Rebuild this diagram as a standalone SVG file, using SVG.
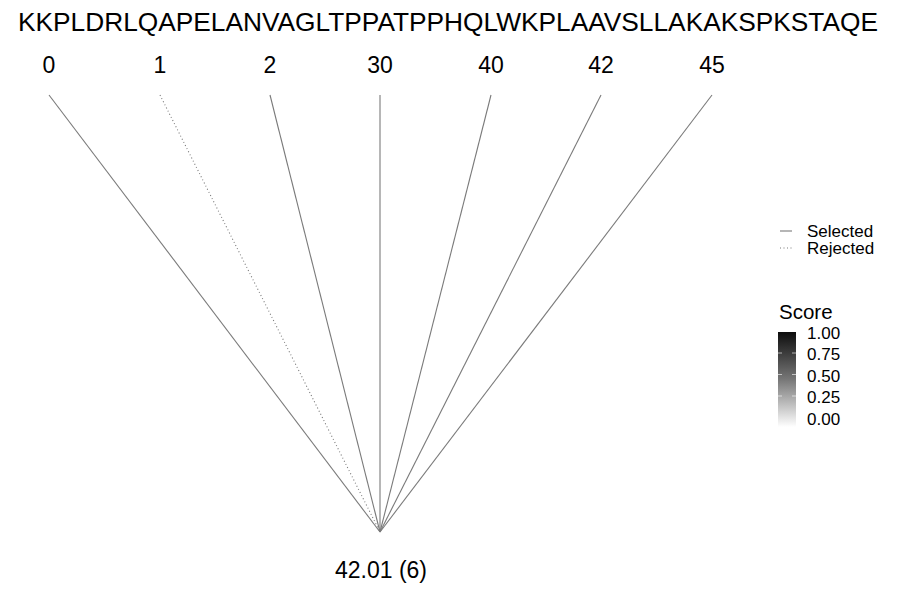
<svg xmlns="http://www.w3.org/2000/svg" width="900" height="600" viewBox="0 0 900 600">
<style>
text{font-family:"Liberation Sans",Arial,sans-serif;fill:#000}
.lbl{font-size:23px;text-anchor:middle}
.sel{stroke:#7a7a7a;stroke-width:1.1;fill:none}
.rej{stroke:#7a7a7a;stroke-width:1.1;fill:none;stroke-dasharray:1 2.5}
.leg{font-size:17px}
.tick{stroke:#ffffff;stroke-width:1;opacity:0.6}
</style>
<defs>
<linearGradient id="g" x1="0" y1="1" x2="0" y2="0">
<stop offset="0" stop-color="#ffffff"/>
<stop offset="0.5" stop-color="#777777"/>
<stop offset="1" stop-color="#0d0d0d"/>
</linearGradient>
</defs>
<rect width="900" height="600" fill="#fff"/>
<text x="448" y="31" font-size="25.5" text-anchor="middle" textLength="860" lengthAdjust="spacingAndGlyphs">KKPLDRLQAPELANVAGLTPPATPPHQLWKPLAAVSLLAKAKSPKSTAQE</text>
<g id="connectors">
<line class="sel" x1="49" y1="95" x2="380" y2="532"/>
<line class="rej" x1="160" y1="95" x2="380" y2="532"/>
<line class="sel" x1="270" y1="95" x2="380" y2="532"/>
<line class="sel" x1="380" y1="95" x2="380" y2="532"/>
<line class="sel" x1="491" y1="95" x2="380" y2="532"/>
<line class="sel" x1="601" y1="95" x2="380" y2="532"/>
<line class="sel" x1="712" y1="95" x2="380" y2="532"/>
</g>
<g id="n0"><text class="lbl" x="49" y="73">0</text></g>
<g id="n1"><text class="lbl" x="160" y="73">1</text></g>
<g id="n2"><text class="lbl" x="270" y="73">2</text></g>
<g id="n30"><text class="lbl" x="380" y="73">30</text></g>
<g id="n40"><text class="lbl" x="491" y="73">40</text></g>
<g id="n42"><text class="lbl" x="601" y="73">42</text></g>
<g id="n45"><text class="lbl" x="712" y="73">45</text></g>
<g id="root"><text class="lbl" x="381" y="578">42.01 (6)</text></g>
<g id="legend">
<line x1="780" y1="231" x2="792" y2="231" class="sel"/>
<line x1="780" y1="248" x2="792" y2="248" class="rej"/>
<text class="leg" x="807" y="237">Selected</text>
<text class="leg" x="807" y="254">Rejected</text>
<text x="779" y="319" font-size="20.5">Score</text>
<rect x="778" y="332" width="18" height="95" fill="url(#g)"/>
<line class="tick" x1="778" y1="353" x2="782" y2="353"/><line class="tick" x1="792" y1="353" x2="796" y2="353"/>
<line class="tick" x1="778" y1="374.5" x2="782" y2="374.5"/><line class="tick" x1="792" y1="374.5" x2="796" y2="374.5"/>
<line class="tick" x1="778" y1="396" x2="782" y2="396"/><line class="tick" x1="792" y1="396" x2="796" y2="396"/>
<text class="leg" x="807" y="339">1.00</text>
<text class="leg" x="807" y="360">0.75</text>
<text class="leg" x="807" y="382">0.50</text>
<text class="leg" x="807" y="403">0.25</text>
<text class="leg" x="807" y="425">0.00</text>
</g>
</svg>
